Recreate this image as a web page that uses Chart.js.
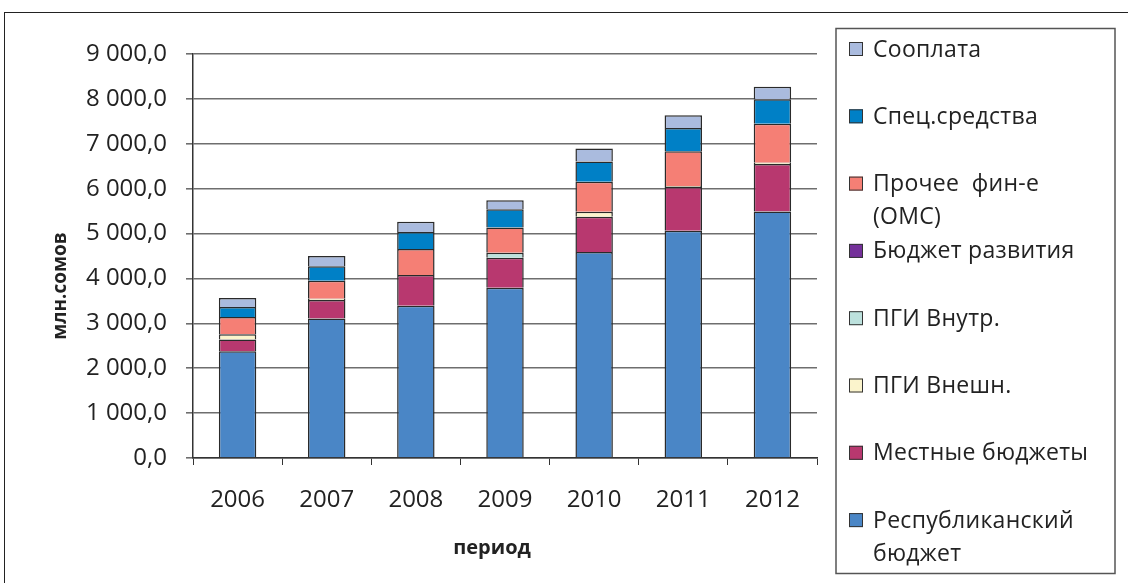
<!DOCTYPE html>
<html>
<head>
<meta charset="utf-8">
<script src="https://cdn.jsdelivr.net/npm/chart.js@4"></script>
<style>
  html, body { margin: 0; padding: 0; background: #fff; overflow: hidden; }
  #wrap { position: relative; width: 1128px; height: 583px; }
  #frame { position: absolute; left: 4px; top: 12px; width: 1200px; height: 700px; border: 1.5px solid #222; box-sizing: border-box; }
  canvas { position: absolute; left: 0; top: 0; }
</style>
</head>
<body>
<div id="wrap">
  <div id="frame"></div>
  <canvas id="chart" width="1128" height="583"></canvas>
</div>
<script>
// годы
const years = ['2006', '2007', '2008', '2009', '2010', '2011', '2012'];

// источники финансирования, млн. сомов
const respBudget  = [2380, 3105, 3390, 3790, 4590, 5060, 5490];
const localBudget = [260, 415, 685, 670, 785, 975, 1060];
const pgiExt      = [115, 30, 0, 0, 110, 25, 30];
const pgiInt      = [0, 0, 0, 110, 0, 0, 0];
const devBudget   = [0, 0, 0, 0, 0, 0, 0];
const otherOms    = [385, 400, 580, 566, 668, 776, 867];
const specFunds   = [223, 320, 378, 408, 454, 513, 544];
const copayment   = [200, 230, 230, 200, 289, 289, 280];

const yTicks = [0, 1000, 2000, 3000, 4000, 5000, 6000, 7000, 8000, 9000];

const FONT = '"Open Sans", sans-serif';

function fmt(v) {
	// 9000 -> "9 000,0"
	const s = String(Math.round(v));
	return s.replace(/\B(?=(\d{3})+(?!\d))/g, ' ') + ',0';
}

const series = [
	{ label: 'Республиканский бюджет', data: respBudget,  color: '#4A86C6', lines: ['Республиканский', 'бюджет'] },
	{ label: 'Местные бюджеты',        data: localBudget, color: '#B8386F', lines: ['Местные бюджеты'] },
	{ label: 'ПГИ Внешн.',             data: pgiExt,      color: '#FBF4CC', lines: ['ПГИ Внешн.'] },
	{ label: 'ПГИ Внутр.',             data: pgiInt,      color: '#BCE1DD', lines: ['ПГИ Внутр.'] },
	{ label: 'Бюджет развития',        data: devBudget,   color: '#74309A', lines: ['Бюджет развития'] },
	{ label: 'Прочее  фин-е (ОМС)',    data: otherOms,    color: '#F57F75', lines: ['Прочее  фин-е', '(ОМС)'] },
	{ label: 'Спец.средства',          data: specFunds,   color: '#0080C6', lines: ['Спец.средства'] },
	{ label: 'Сооплата',               data: copayment,   color: '#AABBDE', lines: ['Сооплата'] }
];

// легенда в рамке справа + подписи осей
const sidePlugin = {
	id: 'sideLegend',
	afterDraw(chart) {
		const c = chart.ctx;
		c.save();
		// рамка легенды
		c.strokeStyle = '#555';
		c.lineWidth = 1.5;
		c.strokeRect(836, 28.5, 279, 545);

		const items = series.slice().reverse();
		c.font = '23px ' + FONT;
		c.letterSpacing = '0.3px';
		c.textBaseline = 'middle';
		c.textAlign = 'left';
		items.forEach((s, i) => {
			const y = 49 + i * 67.3;
			c.fillStyle = s.color;
			c.fillRect(849, y - 7, 14, 14);
			c.strokeStyle = '#333';
			c.lineWidth = 1;
			c.strokeRect(849.5, y - 6.5, 13, 13);
			c.fillStyle = '#222';
			s.lines.forEach((t, k) => c.fillText(t, 873, y + 1 + k * 33));
		});
		c.letterSpacing = '0px';

		// подписи осей
		c.fillStyle = '#222';
		c.font = 'bold 20px ' + FONT;
		c.textAlign = 'center';
		c.fillText('период', 492, 548);
		c.translate(61, 286);
		c.rotate(-Math.PI / 2);
		c.font = 'bold 19px ' + FONT;
		c.fillText('млн.сомов', 0, 0);
		c.restore();
	}
};

new Chart(document.getElementById('chart'), {
	type: 'bar',
	data: {
		labels: years,
		datasets: series.map(s => ({
			label: s.label,
			data: s.data,
			backgroundColor: s.color,
			borderColor: '#2A2A2A',
			borderWidth: 1.5,
			categoryPercentage: 0.84,
			barPercentage: 0.5
		}))
	},
	options: {
		responsive: false,
		animation: false,
		layout: { padding: { top: 54, right: 311, left: 0, bottom: 0 } },
		plugins: {
			legend: { display: false },
			tooltip: { enabled: false }
		},
		scales: {
			x: {
				stacked: true,
				afterFit(scale) { scale.height = 125; },
				grid: { drawOnChartArea: false, drawTicks: true, tickLength: 7, offset: true, color: '#333', lineWidth: 1 },
				border: { color: '#333', width: 1.5 },
				ticks: { font: { family: FONT, size: 24 }, color: '#222', padding: 21 }
			},
			y: {
				stacked: true,
				min: 0,
				max: 9000,
				afterFit(scale) { scale.width = 193; },
				afterBuildTicks(scale) { scale.ticks = yTicks.map(v => ({ value: v })); },
				grid: { color: '#6e6e6e', lineWidth: 1.6, tickLength: 7 },
				border: { color: '#333', width: 1.5 },
				ticks: { font: { family: FONT, size: 24 }, color: '#222', padding: 19, callback: v => fmt(v) }
			}
		}
	},
	plugins: [sidePlugin]
});
</script>
</body>
</html>
